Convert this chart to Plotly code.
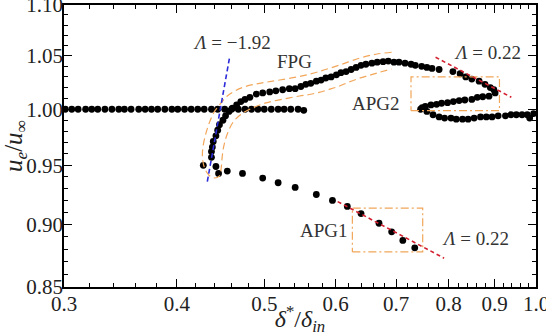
import math

import plotly.graph_objects as go

# --- data (delta*/delta_in , u_e/u_inf) ---
zpg_x = [0.301, 0.306, 0.311, 0.317, 0.322, 0.327, 0.333, 0.339, 0.345, 0.350, 0.356, 0.363, 0.369,
         0.375, 0.381, 0.388, 0.395, 0.401, 0.408, 0.415, 0.422, 0.429, 0.437, 0.444, 0.452, 0.460,
         0.468, 0.476, 0.484, 0.492, 0.500, 0.509, 0.518, 0.526, 0.535, 0.545, 0.553]
zpg_y = [1.000, 1.000, 1.000, 1.000, 1.000, 1.000, 1.000, 1.000, 1.000, 1.000, 1.000, 1.000, 1.000,
         1.000, 1.000, 1.000, 1.000, 1.000, 1.000, 1.000, 1.000, 1.000, 1.000, 1.000, 1.000, 1.000,
         1.000, 1.000, 1.000, 1.000, 1.000, 1.000, 1.000, 1.000, 1.000, 1.000, 0.999]

fpg_x = [0.437, 0.437, 0.438, 0.439, 0.442, 0.444, 0.446, 0.450, 0.453, 0.457, 0.461, 0.466, 0.471,
         0.476, 0.482, 0.490, 0.498, 0.507, 0.515, 0.524, 0.533, 0.541, 0.549, 0.556, 0.563, 0.571,
         0.578, 0.585, 0.593, 0.601, 0.608, 0.616, 0.624, 0.632, 0.640, 0.648, 0.658, 0.667, 0.677,
         0.686, 0.696, 0.705, 0.716, 0.727, 0.735, 0.747, 0.757, 0.767, 0.781, 0.809, 0.824, 0.836,
         0.849, 0.865, 0.878, 0.890, 0.898, 0.901]
fpg_y = [0.957, 0.962, 0.966, 0.971, 0.976, 0.981, 0.986, 0.990, 0.994, 0.998, 1.001, 1.004, 1.007,
         1.009, 1.011, 1.014, 1.015, 1.016, 1.017, 1.018, 1.019, 1.019, 1.021, 1.023, 1.024, 1.026,
         1.027, 1.029, 1.030, 1.032, 1.034, 1.035, 1.037, 1.039, 1.041, 1.042, 1.043, 1.044, 1.0445,
         1.045, 1.044, 1.044, 1.043, 1.042, 1.041, 1.040, 1.039, 1.038, 1.037, 1.035, 1.033, 1.030,
         1.028, 1.026, 1.023, 1.020, 1.018, 1.015]

apg2_back_x = [0.887, 0.873, 0.861, 0.849, 0.834, 0.822, 0.810, 0.798, 0.786, 0.776, 0.765, 0.754, 0.748, 0.745]
apg2_back_y = [1.012, 1.0115, 1.011, 1.009, 1.0085, 1.008, 1.007, 1.006, 1.0055, 1.0045, 1.004, 1.0025, 1.0015, 1.000]

recov_x = [0.757, 0.769, 0.781, 0.792, 0.805, 0.816, 0.829, 0.841, 0.854, 0.868, 0.881, 0.894, 0.908,
           0.925, 0.938, 0.951, 0.965, 0.978, 0.984, 0.994]
recov_y = [0.998, 0.995, 0.993, 0.992, 0.992, 0.991, 0.991, 0.991, 0.992, 0.993, 0.993, 0.993, 0.994,
           0.994, 0.995, 0.995, 0.995, 0.995, 0.992, 0.996]

apg1_x = [0.428, 0.442, 0.445, 0.455, 0.473, 0.498, 0.518, 0.541, 0.571, 0.595, 0.618, 0.640, 0.670, 0.692, 0.712, 0.734]
apg1_y = [0.950, 0.949, 0.943, 0.945, 0.943, 0.939, 0.935, 0.931, 0.925, 0.920, 0.915, 0.909, 0.901, 0.894, 0.887, 0.881]

# fitted slopes
lam_fpg_x = [0.4324, 0.4577]
lam_fpg_y = [0.936, 1.0487]
lam_apg2_x = [0.774, 0.939]
lam_apg2_y = [1.0487, 1.011]
lam_apg1_x = [0.603, 0.791]
lam_apg1_y = [0.919, 0.8727]

# hand-drawn envelope around the FPG branch
env_x = [0.692, 0.665, 0.637, 0.606, 0.575, 0.547, 0.520, 0.502, 0.490, 0.477, 0.465, 0.455, 0.447,
         0.440, 0.435, 0.431, 0.428, 0.427, 0.429, 0.434, 0.440, 0.446, 0.448, 0.449, 0.451, 0.455,
         0.462, 0.472, 0.484, 0.502, 0.524, 0.547, 0.561, 0.575, 0.590, 0.606, 0.621, 0.637, 0.653,
         0.670, 0.692]
env_y = [1.0535, 1.0516, 1.0477, 1.0413, 1.0351, 1.0304, 1.0271, 1.0250, 1.0234, 1.0211, 1.0173, 1.0122,
         1.0049, 0.9975, 0.9885, 0.9786, 0.9679, 0.9582, 0.9486, 0.9417, 0.9391, 0.9409, 0.9478, 0.9565,
         0.9670, 0.9777, 0.9885, 0.9957, 1.0007, 1.0058, 1.0092, 1.0122, 1.0136, 1.0155, 1.0183, 1.0215,
         1.0253, 1.0287, 1.0314, 1.0342, 1.0375]

# dash-dot boxes (x0, x1, y0, y1)
box_apg2 = (0.727, 0.911, 0.9987, 1.030)
box_apg1 = (0.626, 0.749, 0.8777, 0.9135)

labels = ["<i>Λ</i> = −1.92", "FPG", "APG2", "<i>Λ</i> = 0.22", "APG1", "<i>Λ</i> = 0.22"]
label_x = [0.460, 0.540, 0.665, 0.8846, 0.582, 0.858]
label_y = [1.0625, 1.0442, 1.0049, 1.0528, 0.8947, 0.8882]

x_ticks = [0.3, 0.4, 0.5, 0.6, 0.7, 0.8, 0.9, 1.0]
x_ticktext = ["0.3", "0.4", "0.5", "0.6", "0.7", "0.8", "0.9", "1.0"]
y_ticks = [0.85, 0.90, 0.95, 1.00, 1.05, 1.10]
y_ticktext = ["0.85", "0.90", "0.95", "1.00", "1.05", "1.10"]
x_minor = [round(0.30 + 0.02 * i, 2) for i in range(1, 35)]
y_minor = [round(0.85 + 0.01 * i, 2) for i in range(1, 25)]

SERIF = "Liberation Serif"
ORANGE = "#f2a65a"

fig = go.Figure()

for xs, ys in [(zpg_x, zpg_y), (fpg_x, fpg_y), (apg2_back_x, apg2_back_y), (recov_x, recov_y), (apg1_x, apg1_y)]:
    fig.add_trace(go.Scatter(x=xs, y=ys, mode="markers", marker=dict(color="black", size=6.8), hoverinfo="skip"))

fig.add_trace(go.Scatter(x=env_x, y=env_y, mode="lines", line=dict(color=ORANGE, width=1.2, dash="7px,4px", shape="spline")))

for b in (box_apg2, box_apg1):
    fig.add_trace(go.Scatter(x=[b[0], b[1], b[1], b[0], b[0]], y=[b[2], b[2], b[3], b[3], b[2]], mode="lines",
                             line=dict(color=ORANGE, width=1.2, dash="8px,3px,2px,3px")))

fig.add_trace(go.Scatter(x=lam_fpg_x, y=lam_fpg_y, mode="lines", line=dict(color="#2b2bd9", width=1.6, dash="5px,3px")))
for xs, ys in [(lam_apg2_x, lam_apg2_y), (lam_apg1_x, lam_apg1_y)]:
    fig.add_trace(go.Scatter(x=xs, y=ys, mode="lines", line=dict(color="#d32030", width=1.6, dash="4px,3px")))

for t, lx, ly in zip(labels, label_x, label_y):
    fig.add_annotation(x=math.log10(lx), y=math.log10(ly), text=t, showarrow=False,
                       font=dict(family=SERIF, size=19, color="#333333"))

axis_common = dict(
    showline=True, linecolor="black", linewidth=1.5, mirror="allticks",
    ticks="inside", ticklen=8, tickwidth=1.3, tickcolor="black",
    showgrid=False, zeroline=False, ticklabeloverflow="allow",
    tickfont=dict(family=SERIF, size=21, color="#222222"),
)

fig.update_xaxes(
    type="log", range=[math.log10(0.3), math.log10(1.0)],
    tickmode="array", tickvals=x_ticks, ticktext=x_ticktext, ticklabelstandoff=-3,
    minor=dict(tickmode="array", tickvals=x_minor, ticks="inside", ticklen=4, tickwidth=1, tickcolor="black"),
    title=dict(text="<i>δ</i><sup>*</sup>/<i>δ</i><sub><i>in</i></sub>", font=dict(family=SERIF, size=24, color="#222222"), standoff=0),
    **axis_common,
)
fig.update_yaxes(
    type="log", range=[math.log10(0.85), math.log10(1.10)],
    tickmode="array", tickvals=y_ticks, ticktext=y_ticktext, ticklabelstandoff=-5,
    minor=dict(tickmode="array", tickvals=y_minor, ticks="inside", ticklen=4, tickwidth=1, tickcolor="black"),
    title=dict(text="<i>u</i><sub><i>e</i></sub>/<i>u</i><sub>∞</sub>", font=dict(family=SERIF, size=25, color="#222222"), standoff=0),
    **axis_common,
)

fig.update_layout(
    width=546, height=336,
    margin=dict(l=64, r=10, t=5, b=49, autoexpand=False),
    paper_bgcolor="white", plot_bgcolor="white",
    showlegend=False,
)

fig.write_html("out.html", config={"displayModeBar": False},
               post_script="document.body.style.margin='0px';document.body.style.overflow='hidden';")
